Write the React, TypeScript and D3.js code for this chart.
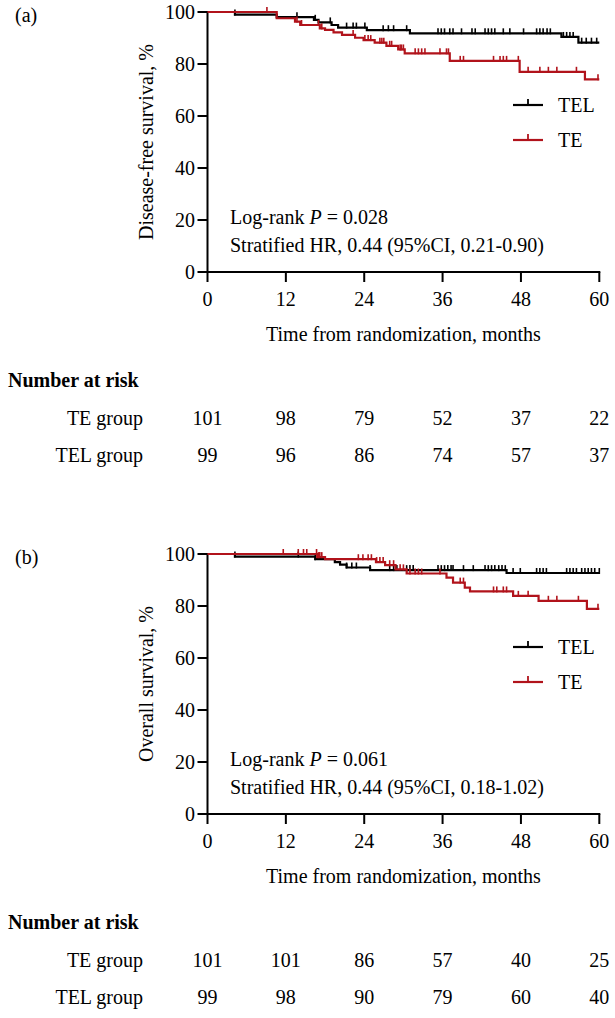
import React from "react";
import * as d3 from "d3";

// ---------- data ----------
const xTicks = [0, 12, 24, 36, 48, 60];
const yTicks = [0, 20, 40, 60, 80, 100];

// Panel (a) disease-free survival: [month, survival % after drop]
const dfsTelSteps: [number, number][] = [
  [4.2, 99.0], [10.6, 98.0], [16.3, 97.0], [17.0, 96.0], [19.0, 95.0], [20.0, 94.0],
  [24.4, 93.0], [31.0, 91.8], [54.2, 90.4], [56.8, 88.2],
];
const dfsTeSteps: [number, number][] = [
  [10.6, 97.6], [13.4, 96.3], [14.2, 95.0], [17.2, 93.7], [18.0, 93.1], [19.3, 92.2],
  [20.6, 91.2], [22.6, 90.1], [23.9, 89.2], [25.6, 88.2], [27.4, 87.0], [29.2, 85.6],
  [30.2, 84.1], [37.1, 81.2], [47.8, 77.0], [57.8, 74.1],
];
const dfsTelCensor = [
  4.2, 13.7, 16.5, 18.8, 21.3, 22.3, 22.8, 24.1, 26.9, 27.7, 28.5, 30.5, 35.3, 35.8, 36.3,
  37.1, 37.6, 38.9, 40.5, 41.0, 42.5, 43.0, 43.5, 44.0, 45.3, 46.3, 48.4, 50.4, 50.9, 51.4,
  52.0, 52.5, 54.5, 55.0, 55.5, 56.0, 57.3, 58.0, 58.8, 59.6,
];
const dfsTeCensor = [
  9.1, 13.7, 14.4, 17.0, 17.5, 22.3, 24.1, 24.6, 25.0, 26.4, 26.7, 27.0, 27.9, 28.2, 29.5,
  29.7, 30.0, 31.8, 32.3, 32.8, 33.3, 35.6, 36.6, 36.9, 38.7, 39.2, 43.8, 44.8, 45.3, 45.8,
  47.6, 49.1, 50.9, 52.2, 53.5, 56.5, 59.8,
];

// Panel (b) overall survival
const osTelSteps: [number, number][] = [
  [4.2, 99.0], [16.5, 98.0], [19.5, 96.9], [20.3, 95.9], [21.3, 94.8], [24.9, 93.8], [45.8, 92.7],
];
const osTeSteps: [number, number][] = [
  [16.8, 98.8], [18.0, 98.0], [25.8, 96.9], [27.2, 95.7], [28.8, 94.1], [30.5, 92.5],
  [36.6, 90.9], [37.6, 89.0], [39.4, 87.1], [40.2, 85.6], [46.8, 83.9], [50.7, 82.0], [58.1, 78.9],
];
const osTelCensor = [
  4.2, 13.9, 16.5, 21.3, 22.1, 22.8, 24.9, 27.9, 28.5, 29.0, 30.5, 31.0, 31.5, 35.3, 35.8,
  36.3, 36.8, 37.3, 37.6, 39.2, 40.7, 42.5, 43.0, 43.5, 44.0, 44.6, 45.1, 45.6, 46.8, 47.9,
  50.4, 50.9, 51.4, 51.9, 55.0, 55.5, 56.0, 56.5, 57.3, 57.8, 58.3, 58.8, 59.3, 60.0,
];
const osTeCensor = [
  11.6, 13.9, 14.7, 15.2, 16.7, 17.0, 17.2, 17.5, 23.1, 23.8, 24.6, 25.1, 25.9, 26.4, 26.9,
  27.9, 28.5, 29.5, 30.0, 31.0, 31.8, 32.3, 32.8, 35.6, 38.7, 39.2, 43.8, 44.3, 45.3, 45.8,
  47.6, 49.1, 52.2, 53.5, 56.8, 59.8,
];

const riskGroups = ["TE group", "TEL group"];
const dfsRiskTe = [101, 98, 79, 52, 37, 22];
const dfsRiskTel = [99, 96, 86, 74, 57, 37];
const osRiskTe = [101, 101, 86, 57, 40, 25];
const osRiskTel = [99, 98, 90, 79, 60, 40];

const seriesNames = ["TEL", "TE"];

// ---------- styles ----------
const RED = "#B1131B";
const BLACK = "#000000";
const FONT = "'Liberation Serif', 'Times New Roman', serif";
const FS = 20;

function survAt(steps: [number, number][], t: number) {
  let s = 100;
  for (const [st, sv] of steps) if (st <= t) s = sv;
  return s;
}

type PanelProps = {
  dy: number;
  letter: string;
  yLabel: string;
  telSteps: [number, number][];
  teSteps: [number, number][];
  telCensor: number[];
  teCensor: number[];
  riskTe: number[];
  riskTel: number[];
  pText: string;
  hrText: string;
};

function Panel(p: PanelProps) {
  const x = d3.scaleLinear().domain([0, 60]).range([207.5, 599.3]);
  const y = d3.scaleLinear().domain([0, 100]).range([272 + p.dy, 12 + p.dy]);
  const line = d3
    .line<[number, number]>()
    .x((d) => x(d[0]))
    .y((d) => y(d[1]))
    .curve(d3.curveStepAfter);
  const pts = (steps: [number, number][]): [number, number][] => [
    [0, 100],
    ...steps,
    [60, steps[steps.length - 1][1]],
  ];
  const axisY = y(0);
  const series = [
    { name: seriesNames[0], steps: p.telSteps, censor: p.telCensor, color: BLACK },
    { name: seriesNames[1], steps: p.teSteps, censor: p.teCensor, color: RED },
  ];
  const legendY = [105 + p.dy, 140 + p.dy];
  return (
    <g fontFamily={FONT} fontSize={FS} fill="#000">
      <text x={15} y={22 + p.dy}>{p.letter}</text>
      <text transform={`translate(153,${142 + p.dy}) rotate(-90)`} textAnchor="middle">
        {p.yLabel}
      </text>
      {/* y axis */}
      <line x1={x(0)} x2={x(0)} y1={y(0) + 1} y2={y(100) - 1} stroke="#000" strokeWidth={2} />
      {yTicks.map((t) => (
        <g key={"y" + t}>
          <line x1={x(0) - 10} x2={x(0)} y1={y(t)} y2={y(t)} stroke="#000" strokeWidth={2} />
          <text x={195} y={y(t) + 7} textAnchor="end">{t}</text>
        </g>
      ))}
      {/* x axis */}
      <line x1={x(0) - 1} x2={x(60) + 1} y1={axisY} y2={axisY} stroke="#000" strokeWidth={2} />
      {xTicks.map((t) => (
        <g key={"x" + t}>
          <line x1={x(t)} x2={x(t)} y1={axisY} y2={axisY + 10} stroke="#000" strokeWidth={2} />
          <text x={x(t)} y={axisY + 33.5} textAnchor="middle">{t}</text>
        </g>
      ))}
      <text x={(x(0) + x(60)) / 2} y={axisY + 69} textAnchor="middle">
        Time from randomization, months
      </text>
      {/* curves */}
      {series.map((s) => (
        <g key={s.name}>
          <path d={line(pts(s.steps)) || ""} fill="none" stroke={s.color} strokeWidth={2.2} />
          {s.censor.map((c, i) => (
            <line
              key={i}
              x1={x(c)}
              x2={x(c)}
              y1={y(survAt(s.steps, c)) + 1}
              y2={y(survAt(s.steps, c)) - 5}
              stroke={s.color}
              strokeWidth={1.6}
            />
          ))}
        </g>
      ))}
      {/* legend */}
      {series.map((s, i) => (
        <g key={"lg" + s.name}>
          <line x1={513} x2={543} y1={legendY[i]} y2={legendY[i]} stroke={s.color} strokeWidth={2.2} />
          <line x1={528} x2={528} y1={legendY[i]} y2={legendY[i] - 6} stroke={s.color} strokeWidth={1.8} />
          <text x={558} y={legendY[i] + 7}>{s.name}</text>
        </g>
      ))}
      {/* stats */}
      <text x={230} y={224 + p.dy}>
        Log-rank <tspan fontStyle="italic">P</tspan> = {p.pText}
      </text>
      <text x={230} y={252 + p.dy}>{p.hrText}</text>
      {/* number at risk */}
      <text x={8} y={387 + p.dy} fontWeight="bold">Number at risk</text>
      {[p.riskTe, p.riskTel].map((row, r) => (
        <g key={"r" + r}>
          <text x={143} y={425 + r * 37 + p.dy} textAnchor="end">{riskGroups[r]}</text>
          {row.map((v, i) => (
            <text key={i} x={x(xTicks[i])} y={425 + r * 37 + p.dy} textAnchor="middle">{v}</text>
          ))}
        </g>
      ))}
    </g>
  );
}

export default function App() {
  return (
    <svg
      width={615}
      height={1018}
      style={{ position: "absolute", left: 0, top: 0, background: "#fff" }}
    >
      <rect width={615} height={1018} fill="#fff" />
      <Panel
        dy={0}
        letter="(a)"
        yLabel="Disease-free survival, %"
        telSteps={dfsTelSteps}
        teSteps={dfsTeSteps}
        telCensor={dfsTelCensor}
        teCensor={dfsTeCensor}
        riskTe={dfsRiskTe}
        riskTel={dfsRiskTel}
        pText="0.028"
        hrText="Stratified HR, 0.44 (95%CI, 0.21-0.90)"
      />
      <Panel
        dy={542}
        letter="(b)"
        yLabel="Overall survival, %"
        telSteps={osTelSteps}
        teSteps={osTeSteps}
        telCensor={osTelCensor}
        teCensor={osTeCensor}
        riskTe={osRiskTe}
        riskTel={osRiskTel}
        pText="0.061"
        hrText="Stratified HR, 0.44 (95%CI, 0.18-1.02)"
      />
    </svg>
  );
}
